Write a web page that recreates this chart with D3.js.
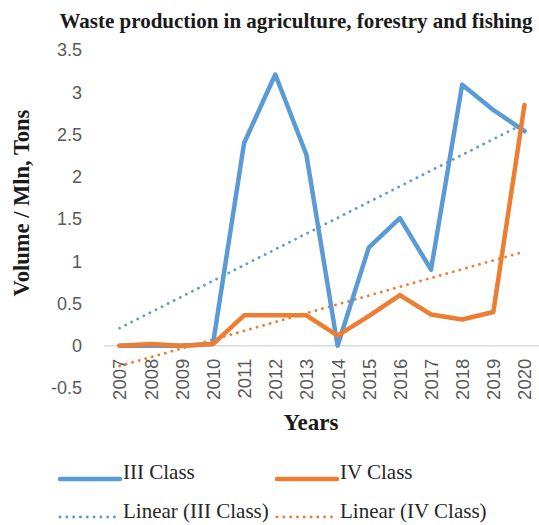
<!DOCTYPE html>
<html>
<head>
<meta charset="utf-8">
<script src="https://cdn.jsdelivr.net/npm/d3@7"></script>
<style>
  body { margin: 0; background: #fff; }
  svg { display: block; }
</style>
</head>
<body>
<svg id="chart" width="539" height="525"></svg>
<script>
// Waste volumes (Mln tons) by hazard class, 2007–2020
const years = ["2007","2008","2009","2010","2011","2012","2013","2014","2015","2016","2017","2018","2019","2020"];
const classIII = [0, 0, 0, 0.02, 2.4, 3.21, 2.26, 0, 1.16, 1.51, 0.9, 3.09, 2.79, 2.54];
const classIV  = [0, 0.02, 0, 0.02, 0.36, 0.36, 0.36, 0.12, 0.35, 0.6, 0.37, 0.31, 0.4, 2.85];
const yTicks = [-0.5, 0, 0.5, 1, 1.5, 2, 2.5, 3, 3.5];

const blue = "#5B9BD5", orange = "#ED7D31";
const serif = "'Liberation Serif','Times New Roman',serif";
const sans = "'Liberation Sans', Arial, sans-serif";

const svg = d3.select("#chart");

const x = d3.scalePoint().domain(years).range([119.5, 524.5]);
const y = d3.scaleLinear().domain([-0.5, 3.5]).range([388, 50]);

// Least-squares trend line over the year index
function trend(vals) {
  const n = vals.length;
  const xs = d3.range(n);
  const mx = d3.mean(xs), my = d3.mean(vals);
  const sxy = d3.sum(xs, (xi, i) => (xi - mx) * (vals[i] - my));
  const sxx = d3.sum(xs, xi => (xi - mx) ** 2);
  const b = sxy / sxx, a = my - b * mx;
  return xs.map(xi => a + b * xi);
}

// Title
svg.append("text")
  .attr("x", 296).attr("y", 28)
  .attr("text-anchor", "middle")
  .attr("font-family", serif).attr("font-weight", "bold").attr("font-size", 21)
  .attr("fill", "#1a1a1a")
  .text("Waste production in agriculture, forestry and fishing");

// Y axis labels (no axis line)
const yAxis = d3.axisLeft(y).tickValues(yTicks).tickSize(0).tickPadding(0)
  .tickFormat(d => String(d));
const gy = svg.append("g").attr("transform", "translate(82,0)").call(yAxis);
gy.select(".domain").remove();
gy.selectAll("text").attr("font-family", sans).attr("font-size", 18).attr("fill", "#595959");

// Zero baseline
svg.append("line")
  .attr("x1", 104).attr("x2", 539)
  .attr("y1", y(0)).attr("y2", y(0))
  .attr("stroke", "#d9d9d9").attr("stroke-width", 1.5);

// X axis labels, rotated
const xAxis = d3.axisBottom(x).tickSize(0).tickPadding(0);
const gx = svg.append("g").attr("transform", `translate(0,${y(0)})`).call(xAxis);
gx.select(".domain").remove();
gx.selectAll("text")
  .attr("font-family", sans).attr("font-size", 18.5).attr("fill", "#595959")
  .attr("text-anchor", "end")
  .attr("transform", "translate(0,13) rotate(-90)")
  .attr("dx", 0).attr("dy", "0.35em").attr("y", 0);

// Axis titles
svg.append("text")
  .attr("transform", "translate(29,203) rotate(-90)")
  .attr("text-anchor", "middle")
  .attr("font-family", serif).attr("font-weight", "bold").attr("font-size", 22.5)
  .attr("fill", "#1a1a1a")
  .text("Volume / Mln, Tons");

svg.append("text")
  .attr("x", 311).attr("y", 430)
  .attr("text-anchor", "middle")
  .attr("font-family", serif).attr("font-weight", "bold").attr("font-size", 23)
  .attr("fill", "#1a1a1a")
  .text("Years");

const line = d3.line().x((d, i) => x(years[i])).y(d => y(d));

// Trend lines (dotted)
[[classIII, blue], [classIV, orange]].forEach(([vals, c]) => {
  svg.append("path")
    .attr("d", line(trend(vals)))
    .attr("fill", "none").attr("stroke", c)
    .attr("stroke-width", 2.8).attr("stroke-linecap", "round")
    .attr("stroke-dasharray", "0.1 6.7");
});

// Series lines
[[classIII, blue], [classIV, orange]].forEach(([vals, c]) => {
  svg.append("path")
    .attr("d", line(vals))
    .attr("fill", "none").attr("stroke", c)
    .attr("stroke-width", 4.5).attr("stroke-linejoin", "round").attr("stroke-linecap", "round");
});

// Legend
const legend = [
  { label: "III Class", color: blue, dotted: false, x: 60, y: 479 },
  { label: "IV Class", color: orange, dotted: false, x: 277, y: 479 },
  { label: "Linear (III Class)", color: blue, dotted: true, x: 60, y: 517 },
  { label: "Linear (IV Class)", color: orange, dotted: true, x: 277, y: 517 }
];
legend.forEach(l => {
  const ln = svg.append("line")
    .attr("x1", l.x).attr("x2", l.x + 60)
    .attr("y1", l.y).attr("y2", l.y)
    .attr("stroke", l.color).attr("stroke-linecap", "round");
  if (l.dotted) ln.attr("stroke-width", 2.8).attr("stroke-dasharray", "0.1 6.7");
  else ln.attr("stroke-width", 4.5);
  svg.append("text")
    .attr("x", l.x + 63).attr("y", l.dotted ? l.y + 1 : l.y)
    .attr("font-family", serif).attr("font-size", 21).attr("fill", "#262626")
    .text(l.label);
});
</script>
</body>
</html>
